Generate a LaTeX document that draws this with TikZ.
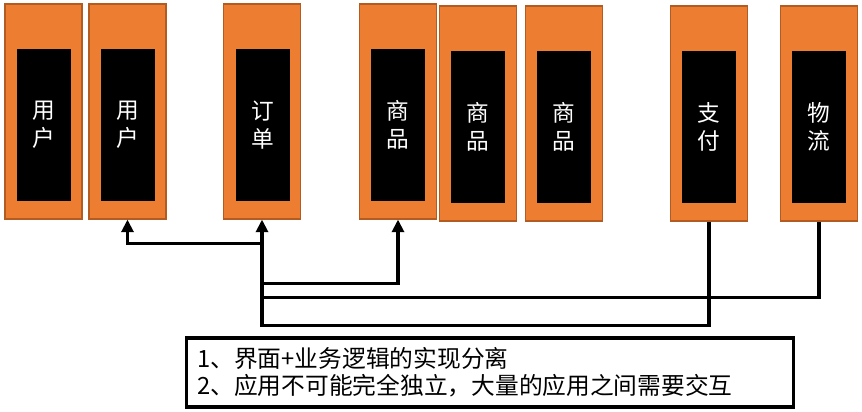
\documentclass[tikz,border=0pt]{standalone}
\usepackage{fontspec}
\setmainfont{Noto Sans CJK SC}
\usepackage{xcolor}
\usetikzlibrary{arrows.meta}
\definecolor{boxorange}{RGB}{237,125,49}
\definecolor{boxedge}{RGB}{178,92,34}

\begin{document}
\begin{tikzpicture}[x=0.75pt,y=0.75pt,yscale=-1,xscale=1,
  appbox/.style={draw=boxedge,fill=boxorange,line width=0.8pt,minimum width=57.75pt,minimum height=161.25pt,inner sep=0pt},
  corebox/.style={fill=black,text=white,minimum width=40.5pt,minimum height=114pt,inner sep=0pt,align=center,font=\fontsize{17}{21}\selectfont},
  link/.style={line width=2.5pt},
  tip/.tip={Triangle[width=9pt,length=9.5pt]},
  notebox/.style={draw,line width=2.6pt,minimum height=51.75pt,text width=439pt,inner xsep=8.25pt,align=left,font=\fontsize{17.8}{20.5}\selectfont}]
\useasboundingbox (0,0) rectangle (862,411);

%Shape: Rectangle [user]
\node [appbox] (user1) at (43.5,111.5) {};
\node [corebox] (user1in) at (44,125) {用\\户};
%Shape: Rectangle [user]
\node [appbox] (user2) at (127.5,111.5) {};
\node [corebox] (user2in) at (128,125) {用\\户};
%Shape: Rectangle [order]
\node [appbox] (order) at (262,111.5) {};
\node [corebox] (orderin) at (263,125) {订\\单};
%Shape: Rectangle [goods]
\node [appbox] (goods1) at (398,111.5) {};
\node [corebox] (goods1in) at (398,125) {商\\品};
%Shape: Rectangle [goods]
\node [appbox] (goods2) at (478,113.5) {};
\node [corebox] (goods2in) at (478,127) {商\\品};
%Shape: Rectangle [goods]
\node [appbox] (goods3) at (564,113.5) {};
\node [corebox] (goods3in) at (564,127) {商\\品};
%Shape: Rectangle [pay]
\node [appbox] (pay) at (709,113.5) {};
\node [corebox] (payin) at (709,127) {支\\付};
%Shape: Rectangle [ship]
\node [appbox] (ship) at (819,113.5) {};
\node [corebox] (shipin) at (819,127) {物\\流};

%Straight Lines [pay -> order]
\draw [link,-{tip}] (pay.south) -- ++(0,104) -| (order.south);
%Straight Lines [ship -> order]
\draw [link,shorten >=20pt] (ship.south) -- ++(0,76) -| (order.south);
%Straight Lines [order -> goods]
\draw [link,-{tip}] (order.south) ++(0,64) -| (goods1.south);
%Straight Lines [order -> user]
\draw [link,-{tip}] (order.south) ++(0,24) -| (user2.south);

% Text Node
\node [notebox] (note) at (490,372.5) {1、界面+业务逻辑的实现分离\\2、应用不可能完全独立，大量的应用之间需要交互};

\end{tikzpicture}
\end{document}
